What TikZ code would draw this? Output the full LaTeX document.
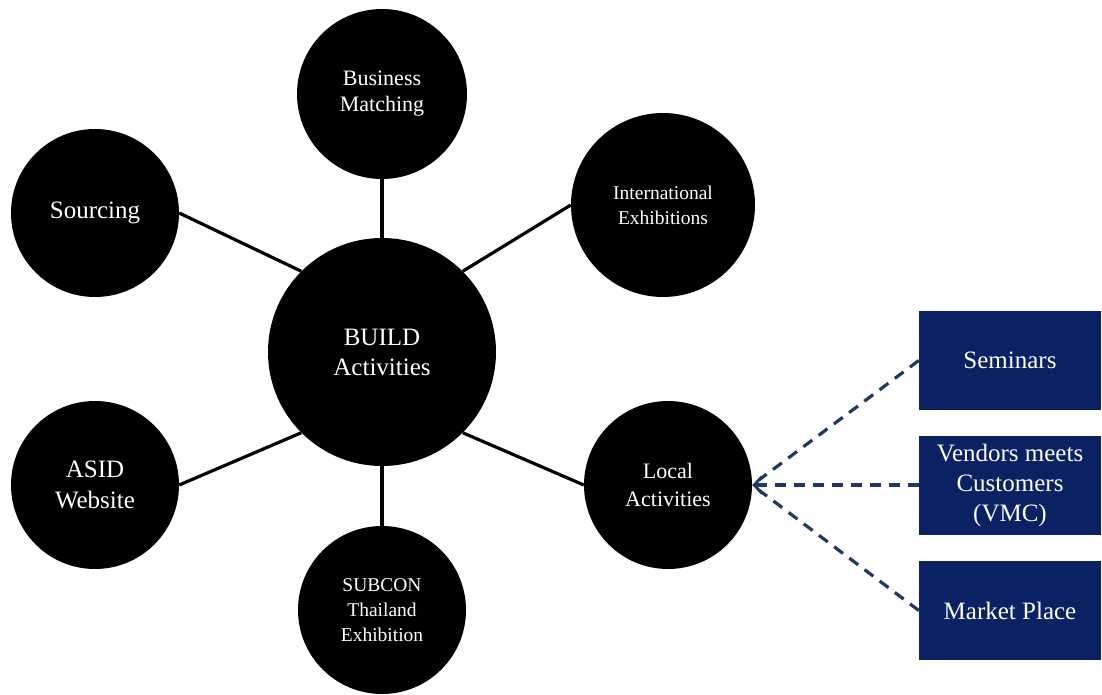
\documentclass[tikz,border=0pt]{standalone}
\usepackage{fontspec}
\setmainfont{Liberation Serif}
\usetikzlibrary{arrows.meta}
\definecolor{boxblue}{HTML}{0A2163}
\definecolor{dashblue}{HTML}{1F3864}
\begin{document}
\begin{tikzpicture}[x=1pt,y=-1pt,
  bub/.style={circle, fill=black, draw=none, inner sep=0pt, text=white, align=center},
  bluebox/.style={rectangle, fill=boxblue, draw=none, inner sep=0pt, text=white, align=center,
     minimum width=182pt, minimum height=99pt, font=\fontsize{25}{30}\selectfont},
  link/.style={line width=3.2pt, black},
  dashline/.style={line width=3.2pt, dashblue, dash pattern=on 11pt off 8pt}
]
\useasboundingbox (0,0) rectangle (1102,695);
\node[bub, minimum size=228pt, font=\fontsize{25}{30}\selectfont] (build) at (382,352) {BUILD\\Activities};
\node[bub, minimum size=170pt, font=\fontsize{22}{26}\selectfont] (bm) at (382,94) {Business\\Matching};
\node[bub, minimum size=168pt, font=\fontsize{25}{30}\selectfont] (src) at (95,213) {Sourcing};
\node[bub, minimum size=184pt, font=\fontsize{19.5}{25}\selectfont] (intl) at (663,205) {International\\Exhibitions};
\node[bub, minimum size=168pt, font=\fontsize{25}{31}\selectfont] (asid) at (95,485) {ASID\\Website};
\node[bub, minimum size=168pt, font=\fontsize{19.5}{25}\selectfont] (sub) at (382,610) {SUBCON\\Thailand\\Exhibition};
\node[bub, minimum size=168pt, font=\fontsize{22}{28}\selectfont] (local) at (668,485) {Local\\Activities};

\node[bluebox] (sem) at (1010,360.5) {Seminars};
\node[bluebox] (vmc) at (1010,485) {Vendors meets\\Customers\\(VMC)};
\node[bluebox] (mkt) at (1010,610.5) {Market Place};

\draw[link] (bm.south) -- (build.north);
\draw[link] (src.east) -- (build.north west);
\draw[link] (intl.west) -- (build.north east);
\draw[link] (asid.east) -- (build.south west);
\draw[link] (sub.north) -- (build.south);
\draw[link] (local.west) -- (build.south east);

\draw[dashline, -{Straight Barb[length=8pt, width=17pt, line width=2.8pt]}] (vmc.west) -- (local.east);
\draw[dashline, shorten >=9pt] (sem.west) -- (local.east);
\draw[dashline, shorten >=9pt] (mkt.west) -- (local.east);
\end{tikzpicture}
\end{document}
